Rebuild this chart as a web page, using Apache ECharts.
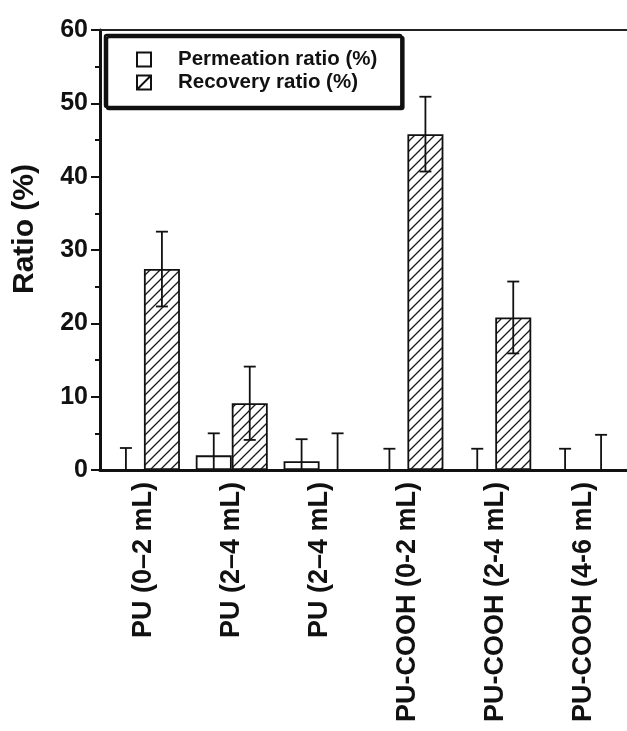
<!DOCTYPE html>
<html>
<head>
<meta charset="utf-8">
<script src="https://cdn.jsdelivr.net/npm/echarts@6/dist/echarts.min.js"></script>
<style>
html,body{margin:0;padding:0;background:#fff;}
#chart{width:627px;height:731px;}
</style>
</head>
<body>
<div id="chart"></div>
<script>
// ---- data ----
const categories = ['PU (0–2 mL)', 'PU (2–4 mL)', 'PU (2–4 mL)', 'PU-COOH (0-2 mL)', 'PU-COOH (2-4 mL)', 'PU-COOH (4-6 mL)'];
const seriesNames = ['Permeation ratio (%)', 'Recovery ratio (%)'];
const permeation = [0, 2.0, 1.2, 0, 0, 0];
const permeationErr = [3.0, 3.0, 3.0, 2.9, 2.9, 2.9];
const recovery = [27.4, 9.1, 0, 45.8, 20.8, 0];
const recoveryErr = [5.1, 5.0, 5.0, 5.1, 4.9, 4.8];
const yTicks = { min: 0, max: 60, interval: 10 };

// ---- styles ----
const FONT = '"Liberation Sans", Arial, Helvetica, sans-serif';
const INK = '#111';
const BAR_W = 36;

function makeHatch() {
  const s = 10;
  const c = document.createElement('canvas');
  c.width = s; c.height = s;
  const g = c.getContext('2d');
  g.fillStyle = '#fff';
  g.fillRect(0, 0, s, s);
  g.strokeStyle = '#1a1a1a';
  g.lineWidth = 1.3;
  g.beginPath();
  g.moveTo(-1, s + 1); g.lineTo(s + 1, -1);
  g.moveTo(-1, 1); g.lineTo(1, -1);
  g.moveTo(s - 1, s + 1); g.lineTo(s + 1, s - 1);
  g.stroke();
  return c;
}
const hatch = { image: makeHatch(), repeat: 'repeat' };

function errData(vals, errs) {
  return vals.map((v, i) => [i, v, errs[i]]);
}

function errRenderer(offset) {
  return function (params, api) {
    const i = api.value(0), v = api.value(1), e = api.value(2);
    const top = api.coord([i, v + e]);
    const lowV = Math.max(0, v - e);
    const low = api.coord([i, lowV]);
    const x = top[0] + offset;
    const cw = 6;
    const st = { stroke: INK, lineWidth: 1.8 };
    const children = [
      { type: 'line', shape: { x1: x, y1: top[1], x2: x, y2: low[1] }, style: st },
      { type: 'line', shape: { x1: x - cw, y1: top[1], x2: x + cw, y2: top[1] }, style: st }
    ];
    if (v - e > 0) {
      children.push({ type: 'line', shape: { x1: x - cw, y1: low[1], x2: x + cw, y2: low[1] }, style: st });
    }
    return { type: 'group', children: children };
  };
}

const chart = echarts.init(document.getElementById('chart'), null, { renderer: 'canvas' });
chart.setOption({
  animation: false,
  backgroundColor: '#fff',
  grid: { left: 100, right: 0, top: 30, bottom: 261, containLabel: false },
  legend: {
    orient: 'vertical',
    left: 105,
    top: 35,
    padding: [14, 24, 14, 31],
    itemGap: 2,
    itemWidth: 14,
    itemHeight: 14,
    backgroundColor: '#fff',
    borderColor: INK,
    borderWidth: 2.5,
    borderRadius: 2,
    shadowColor: INK,
    shadowBlur: 0,
    shadowOffsetX: 2,
    shadowOffsetY: 2,
    textStyle: { fontFamily: FONT, fontWeight: 'bold', fontSize: 20.5, color: INK, lineHeight: 19, padding: [0, 0, 0, 22] },
    data: [
      { name: seriesNames[0], icon: 'rect', itemStyle: { color: '#fff', borderColor: INK, borderWidth: 2 } },
      { name: seriesNames[1], icon: 'path://M0,0L14,0L14,14L0,14Z M0,14L14,0', itemStyle: { color: '#fff', borderColor: INK, borderWidth: 2 } }
    ]
  },
  xAxis: [
    {
      type: 'category',
      data: categories,
      axisLine: { lineStyle: { color: INK, width: 3 } },
      axisTick: { show: false },
      axisLabel: { rotate: 90, margin: 12, interval: 0, fontFamily: FONT, fontWeight: 'bold', fontSize: 27, color: INK }
    },
    {
      type: 'category',
      position: 'top',
      data: categories,
      axisLine: { show: true, lineStyle: { color: '#222', width: 2 } },
      axisTick: { show: false },
      axisLabel: { show: false }
    }
  ],
  yAxis: {
    type: 'value',
    min: yTicks.min,
    max: yTicks.max,
    interval: yTicks.interval,
    name: 'Ratio (%)',
    nameLocation: 'middle',
    nameGap: 60,
    nameTextStyle: { fontFamily: FONT, fontWeight: 'bold', fontSize: 30, color: INK, padding: [0, 0, 0, 42] },
    axisLine: { show: true, lineStyle: { color: INK, width: 3 } },
    axisTick: { show: true, inside: false, length: 9, lineStyle: { color: INK, width: 2 } },
    minorTick: { show: true, splitNumber: 2, length: 5, lineStyle: { color: INK, width: 2 } },
    splitLine: { show: false },
    axisLabel: { margin: 12, fontFamily: FONT, fontWeight: 'bold', fontSize: 25, color: INK }
  },
  series: [
    {
      name: seriesNames[0],
      type: 'bar',
      data: permeation,
      barWidth: BAR_W,
      barGap: '0%',
      itemStyle: { color: '#fff', borderColor: INK, borderWidth: 1.8 }
    },
    {
      name: seriesNames[1],
      type: 'bar',
      data: recovery,
      barWidth: BAR_W,
      barGap: '0%',
      itemStyle: { color: hatch, borderColor: INK, borderWidth: 1.8 }
    },
    {
      type: 'custom',
      name: 'permErr',
      data: errData(permeation, permeationErr),
      renderItem: errRenderer(-BAR_W / 2),
      z: 10,
      silent: true
    },
    {
      type: 'custom',
      name: 'recErr',
      data: errData(recovery, recoveryErr),
      renderItem: errRenderer(BAR_W / 2),
      z: 10,
      silent: true
    }
  ]
});
</script>
</body>
</html>
